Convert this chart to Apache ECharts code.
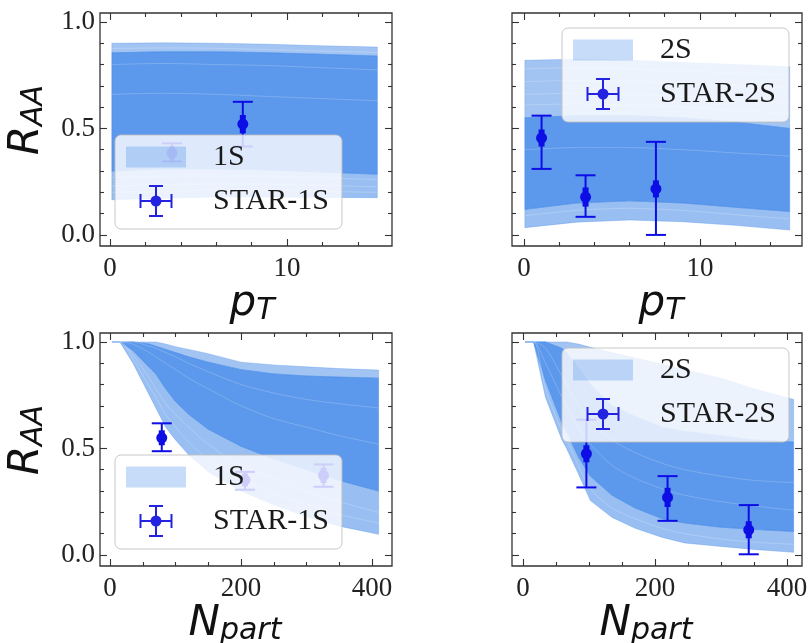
<!DOCTYPE html>
<html><head><meta charset="utf-8">
<script src="https://cdn.jsdelivr.net/npm/echarts@6/dist/echarts.min.js"></script>
<style>html,body{margin:0;padding:0;background:#fff}#c{width:811px;height:643px}</style>
</head><body><div id="c"></div>
<script>
// ---------- DATA ----------
// Model bands (envelope and density-boundary curves, top to bottom)
const ptGrid1S = [0.1, 3, 6, 9, 12, 15.1];
const pt1S_c0 = [0.900, 0.902, 0.900, 0.895, 0.888, 0.882];
const pt1S_c1 = [0.855, 0.860, 0.860, 0.855, 0.848, 0.840];
const pt1S_c2 = [0.300, 0.310, 0.310, 0.305, 0.295, 0.285];
const pt1S_c3 = [0.165, 0.172, 0.178, 0.178, 0.176, 0.175];
// lighter individual curves visible inside the band
const pt1S_s1 = [0.875, 0.878, 0.876, 0.870, 0.863, 0.857];
const pt1S_s2 = [0.800, 0.805, 0.800, 0.795, 0.785, 0.775];
const pt1S_s3 = [0.660, 0.665, 0.660, 0.650, 0.640, 0.630];
const pt1S_s4 = [0.270, 0.275, 0.278, 0.275, 0.268, 0.260];
const pt1S_s5 = [0.230, 0.235, 0.240, 0.238, 0.232, 0.226];
const pt1S_s6 = [0.200, 0.205, 0.210, 0.210, 0.205, 0.200];

const ptGrid2S = [0.05, 3, 6, 9, 12, 15.1];
const pt2S_c0 = [0.820, 0.825, 0.820, 0.810, 0.800, 0.790];
const pt2S_c1 = [0.550, 0.560, 0.560, 0.550, 0.530, 0.500];
const pt2S_c2 = [0.120, 0.150, 0.160, 0.150, 0.130, 0.110];
const pt2S_c3 = [0.034, 0.060, 0.070, 0.062, 0.045, 0.023];
const pt2S_s1 = [0.780, 0.785, 0.780, 0.770, 0.760, 0.750];
const pt2S_s2 = [0.720, 0.725, 0.720, 0.710, 0.700, 0.690];
const pt2S_s3 = [0.660, 0.665, 0.660, 0.650, 0.635, 0.620];
const pt2S_s4 = [0.610, 0.615, 0.610, 0.600, 0.585, 0.570];
const pt2S_s5 = [0.400, 0.410, 0.410, 0.400, 0.385, 0.370];
const pt2S_s6 = [0.090, 0.115, 0.125, 0.115, 0.095, 0.075];

const npGrid1S = [3, 15, 35, 60, 70, 85, 100, 120, 150, 200, 250, 300, 350, 410];
const np1S_c0 = [1, 1, 1, 1, 1, 0.990, 0.978, 0.965, 0.945, 0.905, 0.892, 0.883, 0.875, 0.868];
const np1S_c1 = [1, 1, 1, 0.990, 0.980, 0.965, 0.950, 0.930, 0.905, 0.870, 0.850, 0.840, 0.835, 0.830];
const np1S_c2 = [1, 1, 0.960, 0.880, 0.850, 0.780, 0.720, 0.660, 0.590, 0.510, 0.450, 0.400, 0.350, 0.300];
const np1S_c3 = [1, 1, 0.900, 0.750, 0.690, 0.600, 0.540, 0.470, 0.390, 0.300, 0.235, 0.180, 0.135, 0.097];
const np1S_s1 = [1, 1, 0.940, 0.830, 0.780, 0.710, 0.660, 0.600, 0.520, 0.420, 0.360, 0.300, 0.250, 0.200];
const np1S_s2 = [1, 1, 0.920, 0.790, 0.740, 0.660, 0.600, 0.530, 0.450, 0.360, 0.290, 0.240, 0.190, 0.150];
const np1S_s3 = [1, 1, 0.990, 0.950, 0.930, 0.900, 0.870, 0.830, 0.780, 0.700, 0.640, 0.600, 0.560, 0.520];
const np1S_s4 = [1, 1, 1, 0.980, 0.970, 0.950, 0.930, 0.900, 0.860, 0.800, 0.760, 0.730, 0.710, 0.690];

const npGrid2S = [3, 16, 34, 59, 66, 84, 102, 135, 170, 211, 245, 300, 350, 410];
const np2S_c0 = [1, 1, 1, 1, 1, 0.990, 0.975, 0.950, 0.925, 0.895, 0.870, 0.830, 0.780, 0.730];
const np2S_c1 = [1, 1, 1, 0.970, 0.950, 0.880, 0.800, 0.700, 0.650, 0.600, 0.580, 0.560, 0.540, 0.530];
const np2S_c2 = [1, 1, 0.820, 0.620, 0.580, 0.460, 0.370, 0.280, 0.220, 0.170, 0.150, 0.130, 0.120, 0.110];
const np2S_c3 = [1, 1, 0.740, 0.540, 0.500, 0.380, 0.255, 0.176, 0.125, 0.082, 0.056, 0.040, 0.026, 0.012];
const np2S_s1 = [1, 1, 0.780, 0.580, 0.540, 0.420, 0.310, 0.220, 0.170, 0.125, 0.100, 0.075, 0.060, 0.050];
const np2S_s2 = [1, 1, 0.900, 0.740, 0.700, 0.600, 0.520, 0.420, 0.360, 0.310, 0.280, 0.250, 0.230, 0.210];
const np2S_s3 = [1, 1, 0.970, 0.840, 0.800, 0.700, 0.630, 0.540, 0.480, 0.430, 0.400, 0.370, 0.350, 0.340];

// STAR measurements: x, central value, stat low, stat high, systematic half-width
const star1S_pt_x = [3.5, 7.5];
const star1S_pt_y = [0.385, 0.52];
const star1S_pt_lo = [0.345, 0.415];
const star1S_pt_hi = [0.43, 0.625];
const star1S_pt_sys = [0.03, 0.043];

const star2S_pt_x = [1.0, 3.5, 7.5];
const star2S_pt_y = [0.455, 0.178, 0.216];
const star2S_pt_lo = [0.31, 0.085, 0.0];
const star2S_pt_hi = [0.56, 0.28, 0.437];
const star2S_pt_sys = [0.04, 0.045, 0.04];

const star1S_np_x = [79, 206, 326];
const star1S_np_y = [0.55, 0.352, 0.373];
const star1S_np_lo = [0.487, 0.306, 0.32];
const star1S_np_hi = [0.618, 0.39, 0.425];
const star1S_np_sys = [0.035, 0.03, 0.035];

const star2S_np_x = [96, 219, 342];
const star2S_np_y = [0.475, 0.27, 0.118];
const star2S_np_lo = [0.317, 0.16, 0.003];
const star2S_np_hi = [0.635, 0.37, 0.234];
const star2S_np_sys = [0.04, 0.045, 0.04];

// Tick values
const ptMajor = [0, 10];
const ptMinor = [2, 4, 6, 8, 12, 14];
const npMajor = [0, 200, 400];
const npMinor = [50, 100, 150, 250, 300, 350];
const yMajor = [0, 0.5, 1.0];
const yMinor = [0.1, 0.2, 0.3, 0.4, 0.6, 0.7, 0.8, 0.9];

// ---------- STYLE / LAYOUT ----------
const bandColors = ['rgba(70,138,232,0.50)', 'rgba(70,138,232,0.88)', 'rgba(70,138,232,0.55)'];
const streakColor = 'rgba(255,255,255,0.2)';
const errColor = '#0d0de6';
const tickColor = '#333';
const serif = 'Liberation Serif';

const grids = [
  {left: 100, top: 13, width: 292, height: 233},
  {left: 512, top: 13, width: 290, height: 233},
  {left: 100, top: 333, width: 292, height: 233},
  {left: 512, top: 333, width: 290, height: 233}
];
const xRanges = [[-0.57, 15.93], [-0.68, 15.8], [-15.3, 430.5], [-16.7, 422.7]];
const yRange = [-0.052, 1.042];

const richName = {
  i: {fontFamily: 'DejaVu Sans', fontStyle: 'italic', fontSize: 42, color: '#111', lineHeight: 44},
  s: {fontFamily: 'DejaVu Sans', fontStyle: 'italic', fontSize: 30, color: '#111', lineHeight: 29, verticalAlign: 'bottom'}
};

const xAxes = [], yAxes = [];
function mkAxis(dim, gi, pos, min, max, ticks, len, labels, fmt, name, nameGap, namePad) {
  const a = {
    type: 'value', gridIndex: gi, position: pos, min: min, max: max,
    axisLine: {show: false, onZero: false},
    splitLine: {show: false},
    axisTick: {show: true, inside: true, length: len, customValues: ticks, lineStyle: {color: tickColor, width: 1.1}},
    axisLabel: labels ? {show: true, customValues: ticks, formatter: fmt, fontFamily: serif, fontSize: 27, color: '#222', margin: dim === 'x' ? 9 : 5} : {show: false},
    z: 5
  };
  if (name) {
    a.name = name; a.nameLocation = 'middle'; a.nameGap = nameGap;
    a.nameTextStyle = {rich: richName, padding: namePad};
    if (dim === 'y') a.nameRotate = 90;
  }
  (dim === 'x' ? xAxes : yAxes).push(a);
}
const xMajors = [ptMajor, ptMajor, npMajor, npMajor];
const xMinors = [ptMinor, ptMinor, npMinor, npMinor];
const xNames = ['{i|p}{s|T}', '{i|p}{s|T}', '{i|N}{s|part}', '{i|N}{s|part}'];
const xNameGaps = [14, 14, 33, 33];
const xNamePads = [[0, 0, 0, 12], [0, 0, 0, 8], [0, 22, 0, 0], [0, 22, 0, 0]];
for (let g = 0; g < 4; g++) {
  const [x0, x1] = xRanges[g];
  mkAxis('x', g, 'bottom', x0, x1, xMajors[g], 7, true, v => String(Math.round(v)), xNames[g], xNameGaps[g], xNamePads[g]);
  mkAxis('x', g, 'bottom', x0, x1, xMinors[g], 4, false);
  mkAxis('x', g, 'top', x0, x1, xMajors[g], 7, false);
  mkAxis('x', g, 'top', x0, x1, xMinors[g], 4, false);
  const lab = (g === 0 || g === 2);
  mkAxis('y', g, 'left', yRange[0], yRange[1], yMajor, 7, lab, v => v.toFixed(1), lab ? '{i|R}{s|AA}' : null, 51, [0, 0, 0, 19]);
  mkAxis('y', g, 'left', yRange[0], yRange[1], yMinor, 4, false);
  mkAxis('y', g, 'right', yRange[0], yRange[1], yMajor, 7, false);
  mkAxis('y', g, 'right', yRange[0], yRange[1], yMinor, 4, false);
}

function bandSeries(g, name, xs, curves) {
  return {
    type: 'custom', name: name, xAxisIndex: g * 4, yAxisIndex: g * 4, silent: true, z: 2,
    data: bandColors.map((c, i) => [xs[0], curves[i][0], i]),
    renderItem: function (params, api) {
      const i = params.dataIndex;
      const top = curves[i], bot = curves[i + 1];
      const pts = [];
      for (let k = 0; k < xs.length; k++) pts.push(api.coord([xs[k], top[k]]));
      for (let k = xs.length - 1; k >= 0; k--) pts.push(api.coord([xs[k], bot[k]]));
      return {type: 'polygon', shape: {points: pts}, style: {fill: bandColors[i], stroke: bandColors[i], lineWidth: 0.6}};
    }
  };
}

function streakSeries(g, name, xs, curves) {
  return curves.map(c => ({
    type: 'line', name: name, xAxisIndex: g * 4, yAxisIndex: g * 4, silent: true, z: 2,
    symbol: 'none', smooth: 0.3, data: xs.map((x, k) => [x, c[k]]),
    lineStyle: {color: streakColor, width: 1}, itemStyle: {color: bandColors[1]}
  }));
}

function errSeries(g, name, xs, ys, lo, hi, sys) {
  return {
    type: 'custom', name: name, xAxisIndex: g * 4, yAxisIndex: g * 4, silent: true, z: 3,
    itemStyle: {color: errColor},
    data: xs.map((x, i) => [x, ys[i], lo[i], hi[i], sys[i]]),
    renderItem: function (params, api) {
      const x = api.value(0), y = api.value(1);
      const p = api.coord([x, y]);
      const pl = api.coord([x, api.value(2)]);
      const ph = api.coord([x, api.value(3)]);
      const s1 = api.coord([x, y - api.value(4)]);
      const s2 = api.coord([x, y + api.value(4)]);
      const cw = 10;
      const ls = {stroke: errColor, lineWidth: 2, fill: null};
      return {type: 'group', children: [
        {type: 'line', shape: {x1: p[0], y1: pl[1], x2: p[0], y2: ph[1]}, style: ls},
        {type: 'line', shape: {x1: p[0] - cw, y1: ph[1], x2: p[0] + cw, y2: ph[1]}, style: ls},
        {type: 'line', shape: {x1: p[0] - cw, y1: pl[1], x2: p[0] + cw, y2: pl[1]}, style: ls},
        {type: 'line', shape: {x1: p[0], y1: s1[1], x2: p[0], y2: s2[1]}, style: {stroke: errColor, lineWidth: 6}},
        {type: 'circle', shape: {cx: p[0], cy: p[1], r: 5.5}, style: {fill: errColor}}
      ]};
    }
  };
}

const series = [].concat(
  [bandSeries(0, '1S', ptGrid1S, [pt1S_c0, pt1S_c1, pt1S_c2, pt1S_c3])],
  streakSeries(0, '1S', ptGrid1S, [pt1S_s1, pt1S_s2, pt1S_s3, pt1S_s4, pt1S_s5, pt1S_s6]),
  [errSeries(0, 'STAR-1S', star1S_pt_x, star1S_pt_y, star1S_pt_lo, star1S_pt_hi, star1S_pt_sys)],
  [bandSeries(1, '2S', ptGrid2S, [pt2S_c0, pt2S_c1, pt2S_c2, pt2S_c3])],
  streakSeries(1, '2S', ptGrid2S, [pt2S_s1, pt2S_s2, pt2S_s3, pt2S_s4, pt2S_s5, pt2S_s6]),
  [errSeries(1, 'STAR-2S', star2S_pt_x, star2S_pt_y, star2S_pt_lo, star2S_pt_hi, star2S_pt_sys)],
  [bandSeries(2, '1S', npGrid1S, [np1S_c0, np1S_c1, np1S_c2, np1S_c3])],
  streakSeries(2, '1S', npGrid1S, [np1S_s1, np1S_s2, np1S_s3, np1S_s4]),
  [errSeries(2, 'STAR-1S', star1S_np_x, star1S_np_y, star1S_np_lo, star1S_np_hi, star1S_np_sys)],
  [bandSeries(3, '2S', npGrid2S, [np2S_c0, np2S_c1, np2S_c2, np2S_c3])],
  streakSeries(3, '2S', npGrid2S, [np2S_s1, np2S_s2, np2S_s3]),
  [errSeries(3, 'STAR-2S', star2S_np_x, star2S_np_y, star2S_np_lo, star2S_np_hi, star2S_np_sys)]
);

const patchIcon = 'path://M0,0M60,32M0,5.5h60v21h-60z';
const errIcon = 'path://M0,15h33v2h-33z M0,9h2v14h-2z M31,9h2v14h-2z M15.5,0h2v32h-2z M9.5,0h14v2h-14z M9.5,30h14v2h-14z M22,16A5.5,5.5 0 1 1 11,16A5.5,5.5 0 1 1 22,16z';
function mkLegend(left, top, bandName, starName) {
  return {
    left: left, top: top, orient: 'vertical', selectedMode: false,
    itemWidth: 60, itemHeight: 32, itemGap: 12,
    padding: [6, 13, 12, 11],
    backgroundColor: 'rgba(255,255,255,0.8)', borderColor: 'rgba(190,190,190,0.85)', borderWidth: 1, borderRadius: 6,
    textStyle: {fontFamily: serif, fontSize: 30, color: '#1a1a1a', padding: [0, 0, 0, 22]},
    data: [
      {name: bandName, icon: patchIcon, itemStyle: {color: 'rgba(70,138,232,0.3)'}},
      {name: starName, icon: errIcon, itemStyle: {color: '#2323e0'}}
    ],
    z: 10
  };
}

const option = {
  animation: false,
  backgroundColor: '#fff',
  grid: grids.map(g => Object.assign({show: true, borderColor: '#333', borderWidth: 1.3, backgroundColor: 'transparent', containLabel: false, outerBoundsMode: 'none'}, g)),
  xAxis: xAxes,
  yAxis: yAxes,
  legend: [
    mkLegend(115, 135, '1S', 'STAR-1S'),
    mkLegend(562, 28, '2S', 'STAR-2S'),
    mkLegend(115, 455, '1S', 'STAR-1S'),
    mkLegend(562, 348, '2S', 'STAR-2S')
  ],
  series: series
};
const chart = echarts.init(document.getElementById('c'), null, {renderer: 'canvas'});
chart.setOption(option);
</script></body></html>
